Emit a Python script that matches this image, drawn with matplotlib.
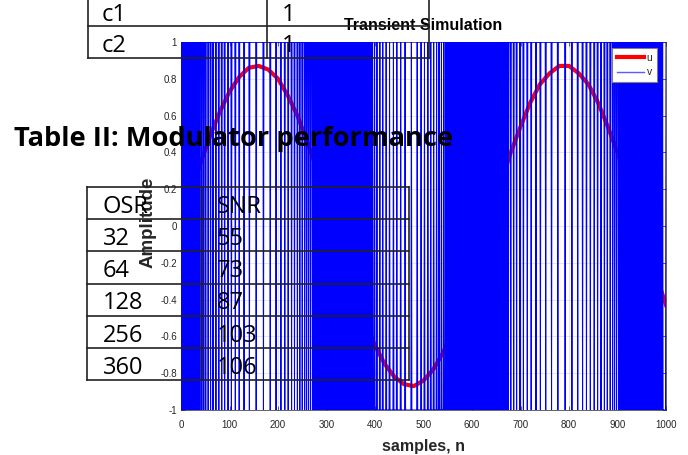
import numpy as np
import matplotlib
matplotlib.use('Agg')
import matplotlib.pyplot as plt

plt.rcParams['font.family'] = ['Liberation Sans', 'DejaVu Sans']
plt.rcParams['axes.unicode_minus'] = False
plt.rcParams['path.simplify'] = False

# input tone u, every 20 samples
n_u = list(range(0, 1001, 20))
u = [0.00, 0.17, 0.34, 0.49, 0.62, 0.73, 0.81, 0.86, 0.87, 0.85,
     0.80, 0.71, 0.60, 0.46, 0.31, 0.14, -0.03, -0.21, -0.37, -0.52,
     -0.65, -0.75, -0.82, -0.86, -0.87, -0.84, -0.78, -0.69, -0.57, -0.43,
     -0.28, -0.10, 0.07, 0.24, 0.40, 0.54, 0.67, 0.77, 0.83, 0.87,
     0.87, 0.83, 0.77, 0.67, 0.54, 0.40, 0.24, 0.07, -0.10, -0.27, -0.43]

# modulator output v, estimated from the barcode of blue transitions.
# busy stretches: run lengths of the toggling bits
# lobes: how long v holds its level before each single-sample pulse
busy_1 = [1] * 40                                              # n 0-39
lobe_1 = [3, 3, 3, 4, 4, 4, 5, 5, 5, 5, 6, 6, 7, 7, 9, 10, 13, 14, 13, 11,
          9, 7, 6, 6, 5, 5, 4, 4, 4, 3, 3, 3, 3, 2]            # n 40-274, v = +1
busy_2 = [1] * 26 + [2] + [1] * 45 + [2] + [1] * 15 + [2] + [1] * 26
lobe_2 = [2, 3, 4, 5, 5, 6, 6, 7, 6, 7, 8, 12, 11, 7, 6, 6, 5, 5, 5, 4,
          4, 4, 3]                                             # n 393-546, v = -1
busy_3 = [1] * 65 + [2] + [1] * 21 + [2] + [1] * 39
lobe_3 = [4, 5, 5, 6, 6, 7, 7, 9, 8, 10, 11, 12, 14, 13, 11, 9, 7, 7, 7, 6,
          6, 6, 5, 5, 4, 3, 3, 3]                              # n 676-902, v = +1
busy_4 = [1] * 91 + [6, 1]                                     # n 903-1000

# tables shown on the page around the plot
coef_names = ['c1', 'c2']
coef_values = ['1', '1']
table_title = 'Table II: Modulator performance'
osr = [32, 64, 128, 256, 360]
snr = [55, 73, 87, 103, 106]

x_ticks = [0, 100, 200, 300, 400, 500, 600, 700, 800, 900, 1000]
y_ticks = [-1, -0.8, -0.6, -0.4, -0.2, 0, 0.2, 0.4, 0.6, 0.8, 1]


def pulses(holds):
    return [r for h in holds for r in (h, 1)]


v_runs = (busy_1 + pulses(lobe_1) + busy_2 + pulses(lobe_2) +
          busy_3 + pulses(lobe_3) + busy_4)
levels = np.where(np.arange(len(v_runs)) % 2 == 0, 1, -1)
v = np.repeat(levels, v_runs)
n_v = np.arange(len(v))

W, H = 688, 455
fig = plt.figure(figsize=(W / 100, H / 100), dpi=100)
ax = fig.add_axes([181 / W, 1 - 410 / H, (666 - 181) / W, (410 - 42) / H])

dark = '#262626'
ax.plot(n_u, u, color='red', lw=3, label='u', zorder=2)
ax.plot(n_v, v, color='blue', lw=0.75, label='v', zorder=3)

ax.set_xlim(0, 1000)
ax.set_ylim(-1, 1)
ax.set_xticks(x_ticks)
ax.set_yticks(y_ticks)
ax.set_yticklabels(['%g' % t for t in y_ticks])
ax.grid(True, color=dark, alpha=0.12, lw=0.6)
ax.tick_params(direction='in', length=3, width=0.5, top=True, right=True,
               labelsize=7, colors=dark)
ax.tick_params(axis='x', pad=7)
ax.tick_params(axis='y', pad=3)
for s in ax.spines.values():
    s.set_color(dark)
    s.set_linewidth(0.5)

ax.set_title('Transient Simulation', fontsize=11.5, fontweight='bold', pad=9)
ax.set_xlabel('samples, n', fontsize=11.5, fontweight='bold', color=dark)
ax.xaxis.set_label_coords(0.5, -0.078)
ax.set_ylabel('Amplitude', fontsize=13.5, fontweight='bold', color=dark)
ax.yaxis.set_label_coords(-0.05, 0.51)

leg = ax.legend(loc='upper right', bbox_to_anchor=(0.982, 0.984), borderaxespad=0,
                fontsize=7.5, handlelength=2.6, handletextpad=0.3, labelspacing=0.45,
                borderpad=0.45, fancybox=False, framealpha=1, edgecolor='#7f7f7f')
for t in leg.get_texts():
    t.set_color(dark)
leg.get_frame().set_linewidth(0.8)
leg.get_lines()[1].set_linewidth(1.0)
leg.get_lines()[1].set_color('#5b5bff')

# page overlay in pixel coordinates (y down)
ov = fig.add_axes([0, 0, 1, 1], zorder=5)
ov.set_xlim(0, W)
ov.set_ylim(H, 0)
ov.axis('off')
lc = '#222222'
tfont = ['Open Sans', 'DejaVu Sans']

# coefficient table (top rows cut off by the page)
for y in [25.5, 57.5]:
    ov.plot([87.5, 428.5], [y, y], color=lc, lw=1.2)
for x in [87.5, 267, 428.5]:
    ov.plot([x, x], [-2, 57.5], color=lc, lw=1.2)
for i, (name, val) in enumerate(zip(coef_names, coef_values)):
    yb = 21 + i * 31
    ov.text(102, yb, name, fontsize=17, family=tfont, va='baseline', ha='left')
    ov.text(282, yb, val, fontsize=17, family=tfont, va='baseline', ha='left')

ov.text(14, 146.5, table_title, fontsize=19.6, family=tfont, fontweight='bold',
        va='baseline', ha='left')

# OSR / SNR table
top, pitch = 187, 32.17
nrows = len(osr) + 1
for i in range(nrows + 1):
    y = top + i * pitch
    ov.plot([87.3, 409.3], [y, y], color=lc, lw=1.2)
for x in [87.3, 201.7, 409.3]:
    ov.plot([x, x], [top, top + nrows * pitch], color=lc, lw=1.2)
rows = [('OSR', 'SNR')] + [(str(a), str(b)) for a, b in zip(osr, snr)]
for i, (a, b) in enumerate(rows):
    yb = top + (i + 1) * pitch - 6.3
    ov.text(103, yb, a, fontsize=17, family=tfont, va='baseline', ha='left')
    ov.text(217, yb, b, fontsize=17, family=tfont, va='baseline', ha='left')

fig.savefig('out.png', dpi=100)
